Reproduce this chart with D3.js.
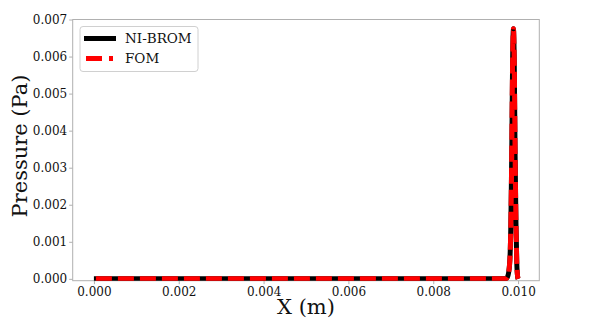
<!DOCTYPE html>
<html><head><meta charset="utf-8">
<script src="https://cdn.jsdelivr.net/npm/d3@7"></script>
<style>body{margin:0;background:#fff}svg{display:block}text{font-family:"DejaVu Serif",serif;fill:#111}</style>
</head><body><svg id="c" width="598" height="318"></svg>
<script>
// Data
const xValues = [0,0.0005,0.001,0.0015,0.002,0.0025,0.003,0.0035,0.004,0.0045,0.005,0.0055,0.006,0.0065,0.007,0.0075,0.008,0.0085,0.009,0.0095,0.0097,0.00975,0.0098,0.00983,0.00985,0.00987,0.00989,0.00991,0.00993,0.00995,0.00997,0.00999,0.01];
const bromValues = [0,0,0,0,0,0,0,0,0,0,0,0,0,0,0,0,0,0,0,0,0,0.00005,0.0004,0.0015,0.0033,0.0058,0.00675,0.0058,0.0033,0.0015,0.0004,0.00005,0];
const fomValues  = [0,0,0,0,0,0,0,0,0,0,0,0,0,0,0,0,0,0,0,0,0,0.00005,0.0004,0.0015,0.0033,0.0058,0.00675,0.0058,0.0033,0.0015,0.0004,0.00005,0];
const xTicks = [0,0.002,0.004,0.006,0.008,0.010];
const yTicks = [0,0.001,0.002,0.003,0.004,0.005,0.006,0.007];
const seriesNames = ["NI-BROM","FOM"];

const svg = d3.select("#c");
const L=72.7, R=539.3, T=19.5, B=280.7;
const x = d3.scaleLinear().domain([-0.0005,0.0105]).range([L,R]);
const y = d3.scaleLinear().domain([-0.00005,0.007]).range([B,T]);

// axes
const xAxis = svg.append("g").attr("transform",`translate(0,${B})`)
  .call(d3.axisBottom(x).tickValues(xTicks).tickFormat(d3.format(".3f")).tickSizeOuter(0).tickSize(3.5).tickPadding(3));
const yAxis = svg.append("g").attr("transform",`translate(${L},0)`)
  .call(d3.axisLeft(y).tickValues(yTicks).tickFormat(d3.format(".3f")).tickSizeOuter(0).tickSize(3.5).tickPadding(2));
[xAxis,yAxis].forEach(g=>{
  g.select(".domain").remove();
  g.selectAll(".tick line").attr("stroke","#b0b0b0");
  g.selectAll(".tick text").attr("font-size",12).attr("fill","#111").attr("font-family","DejaVu Serif");
});
// spines
svg.append("rect").attr("x",L).attr("y",T).attr("width",R-L).attr("height",B-T)
  .attr("fill","none").attr("stroke","#b0b0b0").attr("stroke-width",1);

const data = xValues.map((v,i)=>({x:v,b:bromValues[i],f:fomValues[i]}));
svg.append("clipPath").attr("id","clp").append("rect").attr("x",L).attr("y",T).attr("width",R-L).attr("height",B-T);
const plot = svg.append("g").attr("clip-path","url(#clp)");
const lineB = d3.line().x(d=>x(d.x)).y(d=>y(d.b)).curve(d3.curveMonotoneX);
const lineF = d3.line().x(d=>x(d.x)).y(d=>y(d.f)).curve(d3.curveMonotoneX);
plot.append("path").datum(data).attr("d",lineB).attr("fill","none").attr("stroke","#000").attr("stroke-width",5);
plot.append("path").datum(data).attr("d",lineF).attr("fill","none").attr("stroke","#ff0000").attr("stroke-width",5)
  .attr("stroke-dasharray","16,6").attr("stroke-dashoffset",20);

// labels
svg.append("text").attr("x",(L+R)/2).attr("y",314).attr("text-anchor","middle").attr("font-size",21).text("X (m)");
svg.append("text").attr("transform","translate(27,146) rotate(-90)").attr("text-anchor","middle").attr("font-size",21).text("Pressure (Pa)");

// legend
const lg = svg.append("g");
lg.append("rect").attr("x",80).attr("y",26.5).attr("width",118).attr("height",45).attr("rx",3)
  .attr("fill","#fff").attr("fill-opacity",0.8).attr("stroke","#d0d0d0").attr("stroke-width",1);
lg.append("line").attr("x1",84).attr("x2",116).attr("y1",38.5).attr("y2",38.5).attr("stroke","#000").attr("stroke-width",5);
lg.append("line").attr("x1",86).attr("x2",116).attr("y1",58.5).attr("y2",58.5).attr("stroke","#ff0000").attr("stroke-width",5).attr("stroke-dasharray","16,7,4,20");
lg.append("text").attr("x",125).attr("y",43).attr("font-size",13.5).text(seriesNames[0]);
lg.append("text").attr("x",125).attr("y",63).attr("font-size",13.5).text(seriesNames[1]);
</script></body></html>
